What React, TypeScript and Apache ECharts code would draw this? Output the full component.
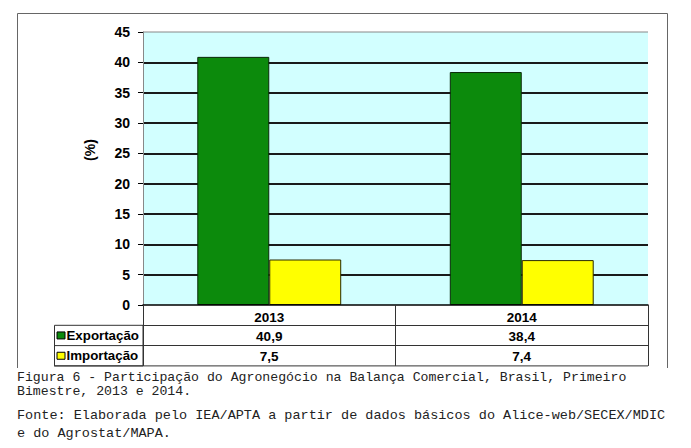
import React, { useEffect, useRef } from "react";
import * as echarts from "echarts";

const categories = ["2013", "2014"];
const seriesNames = ["Exportação", "Importação"];
const exportValues = [40.9, 38.4];
const importValues = [7.5, 7.4];
const seriesColors = ["#0C8A0C", "#FFFF00"];
const yTicks = { min: 0, max: 45, interval: 5 };
const yName = "(%)";
const captionLines = [
  "Figura 6 - Participação do Agronegócio na Balança Comercial, Brasil, Primeiro",
  "Bimestre, 2013 e 2014.",
];
const sourceLines = [
  "Fonte: Elaborada pelo IEA/APTA a partir de dados básicos do Alice-web/SECEX/MDIC",
  "e do Agrostat/MAPA.",
];

const W = 691;
const H = 448;
const G = { left: 143, right: 648, top: 32, bottom: 305 };
const rowH = 20.3;
const legendLeft = 54;

const fmt = (v: number) => v.toFixed(1).replace(".", ",");

export default function App() {
  const ref = useRef<HTMLDivElement>(null);
  useEffect(() => {
    if (!ref.current) return;
    const chart = echarts.init(ref.current, undefined, { renderer: "svg" });
    const tableFont = { fontFamily: "Liberation Sans, Arial, sans-serif", fontWeight: "bold" as const, fontSize: 13.5, color: "#000" };
    const lineColor = "#333";
    const valueRows = [exportValues, importValues];
    const graphics: any[] = [];
    // outer frame
    graphics.push({
      type: "polyline",
      shape: { points: [[17.5, 368], [17.5, 13.5], [667.5, 13.5], [667.5, 368]] },
      style: { stroke: "#666", lineWidth: 1, fill: "none" },
    });
    // plot top border
    graphics.push({
      type: "line",
      shape: { x1: G.left, y1: G.top, x2: G.right, y2: G.top },
      style: { stroke: "#888", lineWidth: 1 },
      z: 10,
    });
    // table bottom line
    graphics.push({
      type: "line",
      shape: { x1: legendLeft, y1: G.bottom + 3 * rowH, x2: G.right, y2: G.bottom + 3 * rowH },
      style: { stroke: lineColor, lineWidth: 1 },
    });
    // legend cells
    graphics.push({
      type: "rect",
      shape: { x: legendLeft + 0.5, y: G.bottom + rowH, width: G.left - legendLeft - 0.5, height: 2 * rowH },
      style: { stroke: lineColor, lineWidth: 1, fill: "none" },
    });
    graphics.push({
      type: "line",
      shape: { x1: legendLeft, y1: G.bottom + 2 * rowH, x2: G.left, y2: G.bottom + 2 * rowH },
      style: { stroke: lineColor, lineWidth: 1 },
    });
    seriesNames.forEach((name, i) => {
      const cy = G.bottom + rowH * (i + 1.5);
      graphics.push({
        type: "rect",
        shape: { x: 57, y: cy - 3.5, width: 8, height: 7 },
        style: { fill: seriesColors[i], stroke: "#000", lineWidth: 1 },
      });
      graphics.push({
        type: "text",
        x: 66.5,
        y: cy,
        style: {
          text: name,
          font: "bold 13.3px 'Liberation Sans', Arial, sans-serif",
          fill: "#000",
          verticalAlign: "middle",
          align: "left",
        },
      });
    });
    // y axis name
    graphics.push({
      type: "text",
      x: 90,
      y: 150,
      rotation: Math.PI / 2,
      style: {
        text: yName,
        font: "bold 14px 'Liberation Sans', Arial, sans-serif",
        fill: "#000",
        align: "center",
        verticalAlign: "middle",
      },
    });
    // captions
    captionLines.forEach((t, i) => {
      graphics.push({
        type: "text",
        x: 17,
        y: 377.4 + i * 14,
        style: { text: t, font: "13.2px 'Liberation Mono', 'Courier New', monospace", fill: "#222", verticalAlign: "middle" },
      });
    });
    sourceLines.forEach((t, i) => {
      graphics.push({
        type: "text",
        x: 17,
        y: 415.7 + i * 17.7,
        style: { text: t, font: "13.5px 'Liberation Mono', 'Courier New', monospace", fill: "#222", verticalAlign: "middle" },
      });
    });

    chart.setOption({
      animation: false,
      grid: {
        left: G.left,
        right: W - G.right,
        top: G.top,
        bottom: H - G.bottom,
        show: true,
        backgroundColor: "#D2FFFF",
        borderWidth: 0,
        outerBoundsMode: "none",
      },
      xAxis: [
        {
          type: "category",
          data: categories,
          position: "bottom",
          axisLine: { show: true, lineStyle: { color: "#000", width: 1.5 } },
          axisTick: { show: true, length: 3 * rowH, lineStyle: { color: lineColor, width: 1 } },
          axisLabel: { ...tableFont, margin: 5 },
          z: 5,
        },
        ...valueRows.map((vals, i) => ({
          type: "category",
          data: vals.map(fmt),
          position: "bottom",
          offset: rowH * (i + 1),
          axisLine: { show: true, lineStyle: { color: lineColor, width: 1 } },
          axisTick: { show: false },
          axisLabel: { ...tableFont, margin: 4 },
        })),
      ],
      yAxis: {
        type: "value",
        min: yTicks.min,
        max: yTicks.max,
        interval: yTicks.interval,
        axisLine: { show: true, lineStyle: { color: "#888", width: 1 } },
        axisTick: { show: true, length: 5, lineStyle: { color: "#000" } },
        axisLabel: {
          fontFamily: "Liberation Sans, Arial, sans-serif",
          fontWeight: "bold",
          fontSize: 14,
          color: "#000",
          margin: 13,
        },
        splitLine: { show: true, showMaxLine: false, showMinLine: false, lineStyle: { color: "#1a1a1a", width: 2 } },
      },
      series: [
        {
          name: seriesNames[0],
          type: "bar",
          data: exportValues,
          barGap: "0%",
          barCategoryGap: "43%",
          itemStyle: { color: seriesColors[0], borderColor: "#0a2a0a", borderWidth: 1 },
          z: 3,
        },
        {
          name: seriesNames[1],
          type: "bar",
          data: importValues,
          barGap: "0%",
          barCategoryGap: "43%",
          itemStyle: { color: seriesColors[1], borderColor: "#2a2a00", borderWidth: 1 },
          z: 3,
        },
      ],
      graphic: graphics,
    });
    return () => chart.dispose();
  }, []);
  return <div ref={ref} style={{ position: "absolute", left: 0, top: 0, width: W, height: H, background: "#fff" }} />;
}
